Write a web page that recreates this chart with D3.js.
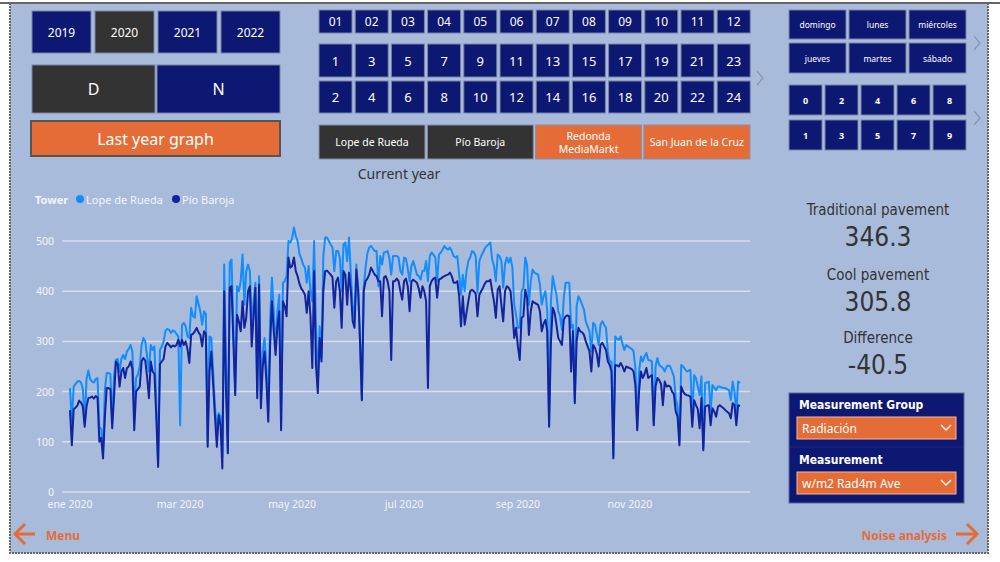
<!DOCTYPE html>
<html>
<head>
<meta charset="utf-8">
<script src="https://cdn.jsdelivr.net/npm/d3@7"></script>
<style>
body{margin:0;background:#fff;font-family:"Noto Sans","Open Sans",sans-serif;}
svg{display:block;}
</style>
</head>
<body>
<div id="report"></div>
<script>
// slicer contents
var years = ["2019","2020","2021","2022"];
var dayNight = ["D","N"];
var months = ["01","02","03","04","05","06","07","08","09","10","11","12"];
var hoursOdd = ["1","3","5","7","9","11","13","15","17","19","21","23"];
var hoursEven = ["2","4","6","8","10","12","14","16","18","20","22","24"];
var towers = ["Lope de Rueda","Pío Baroja","Redonda MediaMarkt","San Juan de la Cruz"];
var weekdaysTop = ["domingo","lunes","miércoles"];
var weekdaysBottom = ["jueves","martes","sábado"];
var digitsEven = ["0","2","4","6","8"];
var digitsOdd = ["1","3","5","7","9"];
var kpiLabels = ["Traditional pavement","Cool pavement","Difference"];
var kpiValues = ["346.3","305.8","-40.5"];
var monthAbbr = ["ene","feb","mar","abr","may","jun","jul","ago","sep","oct","nov","dic"];
var yTicks = [0,100,200,300,400,500];
var seriesNames = ["Lope de Rueda","Pío Baroja"];

// daily w/m2 values for 2020, one row per month
var lopeDeRueda = [
    207,140,210,215,220,221,218,205,137,225,242,225,220,218,225,227,130,125,80,205,237,237,235,137,230,263,265,240,265,273,265,
    280,285,293,280,160,227,235,250,293,307,300,270,240,293,283,290,180,55,283,290,300,321,325,323,317,322,320,315,310,
    133,333,337,330,310,307,367,350,347,390,375,360,333,360,355,100,310,307,240,170,123,157,150,70,453,260,80,457,463,330,200,
    410,400,420,473,373,440,453,440,333,380,417,200,430,180,280,307,250,160,340,427,360,287,360,393,133,417,420,430,500,497,
    505,527,510,500,475,465,453,447,417,450,400,380,500,330,213,330,267,470,507,507,500,493,487,440,480,480,467,400,493,497,460,
    507,433,370,347,453,407,300,183,407,447,475,487,490,485,480,480,410,470,453,477,478,480,465,433,470,470,470,467,440,433,
    467,465,445,420,450,460,447,433,430,423,440,440,460,420,470,477,473,467,420,473,477,483,490,485,483,487,480,470,467,470,433,
    393,433,400,440,460,467,480,478,470,397,460,470,477,485,490,493,497,463,450,420,473,470,460,407,455,467,457,467,447,373,353,
    327,327,400,407,467,453,373,420,443,437,435,433,413,373,390,400,360,133,380,430,410,393,360,350,323,387,417,417,417,327,
    333,180,370,390,383,373,363,340,330,320,280,337,333,315,293,333,340,333,327,280,260,260,73,310,305,303,310,295,283,293,290,
    287,285,280,247,127,240,270,260,270,277,263,262,260,133,250,267,253,250,247,240,250,252,250,240,230,187,170,100,253,250,
    245,240,242,243,150,233,227,210,193,230,87,217,218,220,160,213,208,203,210,210,208,207,207,205,203,183,220,200,160,220,217
];
var pioBaroja = [
    163,93,165,168,172,182,178,170,130,170,187,188,190,186,191,188,100,108,67,150,207,207,205,127,190,260,255,210,240,247,227,
    247,250,260,245,123,200,205,210,260,267,262,230,187,260,240,235,150,50,255,260,265,290,297,293,288,292,290,293,303,
    290,303,293,300,285,257,313,315,320,327,318,313,290,320,315,90,240,280,213,150,90,153,133,47,400,200,77,407,410,300,193,
    353,340,320,380,327,347,400,410,290,350,407,187,413,167,250,280,220,140,290,380,320,273,330,360,123,380,370,350,467,447,
    450,467,440,430,415,405,400,393,357,400,350,247,440,253,197,307,260,400,440,441,437,433,428,367,420,427,400,327,440,433,373,
    437,400,340,327,443,400,300,183,400,420,425,433,447,440,433,430,420,420,350,427,430,420,400,263,420,420,425,420,400,383,
    420,425,410,360,420,423,420,417,405,387,410,400,380,207,410,420,425,427,387,423,425,428,430,432,433,437,430,417,417,420,390,
    330,390,333,357,380,400,403,400,395,350,393,400,407,415,420,420,423,400,380,347,403,410,373,340,400,410,407,400,360,307,327,
    290,263,347,350,403,387,313,360,380,377,375,373,360,320,335,343,320,130,300,367,357,333,307,300,293,343,350,352,350,240,
    320,177,300,327,320,318,313,300,290,280,240,293,287,275,250,293,297,290,283,260,253,240,67,253,252,250,257,250,240,250,248,
    247,245,240,213,123,200,240,227,235,247,227,230,233,133,210,227,223,215,173,220,210,212,210,200,195,160,150,93,210,200,
    195,193,192,190,130,183,173,165,127,187,83,170,172,173,133,167,160,150,170,173,170,167,163,160,157,147,177,173,133,173,171
];

var navy = "#0d1873";
var dark = "#333333";
var orange = "#e66c37";
var canvasColor = "#a9bbdb";
var lightBlue = "#118dff";
var darkBlue = "#12239e";

var svg = d3.select("#report").append("svg")
    .attr("width", 1000)
    .attr("height", 562);

// report canvas
svg.append("rect").attr("x", 10).attr("y", 3).attr("width", 978).attr("height", 550).attr("fill", canvasColor);
svg.append("line").attr("x1", 0).attr("x2", 1000).attr("y1", 3).attr("y2", 3).attr("stroke", "#666").attr("stroke-width", 2);
svg.append("path").attr("d", "M10,3V553H988V3")
    .attr("fill", "none").attr("stroke", "#666").attr("stroke-width", 2).attr("stroke-dasharray", "2,1");

// generic button row
function buttons(labels, x0, pitch, w, y, h, opts) {
    var g = svg.append("g");
    var b = g.selectAll("g").data(labels).enter().append("g")
        .attr("transform", function (d, i) { return "translate(" + (x0 + i * pitch) + "," + y + ")"; });
    b.append("rect")
        .attr("width", w).attr("height", h)
        .attr("fill", function (d, i) { return opts.fill ? opts.fill(d, i) : navy; })
        .attr("stroke", opts.stroke || "#7b83a6")
        .attr("stroke-width", opts.strokeWidth || 1);
    b.append("text")
        .attr("x", w / 2).attr("y", h / 2)
        .attr("text-anchor", "middle")
        .attr("dominant-baseline", "central")
        .attr("fill", "#fff")
        .style("font-size", opts.size + "px")
        .style("font-weight", opts.weight || "normal")
        .text(function (d) { return d; });
    return b;
}

buttons(years, 32, 63, 59, 11, 42, {size: 12, fill: function (d) { return d === "2020" ? dark : navy; }});
buttons(dayNight, 32, 125, 123, 65, 48, {size: 16, fill: function (d) { return d === "D" ? dark : navy; }});
buttons(["Last year graph"], 31, 0, 249, 121, 35, {size: 16, fill: function () { return orange; }, stroke: "#555", strokeWidth: 2});

buttons(months, 319, 36.2, 33, 10, 23, {size: 12});
buttons(hoursOdd, 319, 36.2, 33, 44, 33, {size: 13});
buttons(hoursEven, 319, 36.2, 33, 81, 32, {size: 13});

var towerButtons = buttons(towers, 319, 108.3, 106, 125, 34, {size: 10.5, fill: function (d, i) { return i < 2 ? dark : orange; }, stroke: "#8a8fa8"});
// two line label for the third tower
towerButtons.filter(function (d) { return d === "Redonda MediaMarkt"; }).select("text")
    .text(null)
    .selectAll("tspan").data(["Redonda", "MediaMarkt"]).enter().append("tspan")
    .attr("x", 53).attr("y", function (d, i) { return 11 + i * 13; })
    .text(function (d) { return d; });

svg.append("text").attr("x", 399).attr("y", 173).attr("text-anchor", "middle").attr("dominant-baseline", "central")
    .attr("fill", "#333").style("font-size", "14px").text("Current year");

buttons(weekdaysTop, 789, 60, 57, 10, 29, {size: 8.5});
buttons(weekdaysBottom, 789, 60, 57, 43, 30, {size: 8.5});
buttons(digitsEven, 789, 36, 33, 85, 30, {size: 9, weight: "bold"});
buttons(digitsOdd, 789, 36, 33, 120, 30, {size: 9, weight: "bold"});

// page chevrons
[[760, 78], [977, 43], [977, 118]].forEach(function (p) {
    svg.append("path")
        .attr("d", "M" + (p[0] - 3) + "," + (p[1] - 7) + "L" + (p[0] + 3) + "," + p[1] + "L" + (p[0] - 3) + "," + (p[1] + 7))
        .attr("fill", "none").attr("stroke", "#8c93a8").attr("stroke-width", 1.2);
});

// line chart
var start = new Date(2020, 0, 1);
var days = lopeDeRueda.map(function (d, i) { return d3.timeDay.offset(start, i); });

var x = d3.scaleTime().domain([start, new Date(2020, 11, 31)]).range([70, 740]);
var y = d3.scaleLinear().domain([0, 500]).range([492, 241]);

var chart = svg.append("g").attr("class", "chart");

chart.selectAll(".grid").data(yTicks).enter().append("line")
    .attr("class", "grid")
    .attr("x1", 62).attr("x2", 750)
    .attr("y1", function (d) { return y(d); }).attr("y2", function (d) { return y(d); })
    .attr("stroke", "#d6deee").attr("stroke-width", 1.5);

chart.selectAll(".ylab").data(yTicks).enter().append("text")
    .attr("class", "ylab")
    .attr("x", 54).attr("y", function (d) { return y(d); })
    .attr("text-anchor", "end").attr("dominant-baseline", "central")
    .attr("fill", "#f2f4fa").style("font-size", "10.5px")
    .text(function (d) { return d; });

var xTicks = d3.timeMonth.every(2).range(start, new Date(2020, 11, 31));
chart.selectAll(".xlab").data(xTicks).enter().append("text")
    .attr("class", "xlab")
    .attr("x", function (d) { return x(d); }).attr("y", 504)
    .attr("text-anchor", "middle").attr("dominant-baseline", "central")
    .attr("fill", "#f2f4fa").style("font-size", "10.5px")
    .text(function (d) { return monthAbbr[d.getMonth()] + " " + d.getFullYear(); });

var line = d3.line()
    .x(function (d, i) { return x(days[i]); })
    .y(function (d) { return y(d); });

chart.append("path").datum(lopeDeRueda)
    .attr("d", line).attr("fill", "none").attr("stroke", lightBlue).attr("stroke-width", 2).attr("stroke-linejoin", "round");
chart.append("path").datum(pioBaroja)
    .attr("d", line).attr("fill", "none").attr("stroke", darkBlue).attr("stroke-width", 2).attr("stroke-linejoin", "round");

// legend
var legend = svg.append("g").attr("transform", "translate(35,199)");
legend.append("text").attr("dominant-baseline", "central").attr("fill", "#f2f4fa")
    .style("font-size", "11px").style("font-weight", "bold").text("Tower");
var legendX = [45, 141];
var legendColors = [lightBlue, darkBlue];
seriesNames.forEach(function (name, i) {
    legend.append("circle").attr("cx", legendX[i]).attr("cy", 0).attr("r", 4).attr("fill", legendColors[i]);
    legend.append("text").attr("x", legendX[i] + 6).attr("dominant-baseline", "central").attr("fill", "#f2f4fa")
        .style("font-size", "11px").text(name);
});

// cards
var kpi = svg.append("g").attr("class", "kpi");
var kpiY = [210, 275, 338];
kpiLabels.forEach(function (label, i) {
    kpi.append("text").attr("x", 878).attr("y", kpiY[i]).attr("text-anchor", "middle").attr("dominant-baseline", "central")
        .attr("fill", "#333").style("font-family", "'DejaVu Sans Condensed','DejaVu Sans',sans-serif").style("font-stretch", "condensed")
        .style("font-size", "15px").text(label);
    kpi.append("text").attr("x", 878).attr("y", kpiY[i] + 27).attr("text-anchor", "middle").attr("dominant-baseline", "central")
        .attr("fill", "#333").style("font-family", "'DejaVu Sans Condensed','DejaVu Sans',sans-serif").style("font-stretch", "condensed")
        .style("font-size", "26px").text(kpiValues[i]);
});

// measurement slicers
var slicer = svg.append("g");
slicer.append("rect").attr("x", 789).attr("y", 393).attr("width", 175).attr("height", 110).attr("fill", navy).attr("stroke", "#5d6699");
slicer.append("line").attr("x1", 790).attr("x2", 963).attr("y1", 447).attr("y2", 447).attr("stroke", "#1c2784");
var dropTitles = ["Measurement Group", "Measurement"];
var dropValues = ["Radiación", "w/m2 Rad4m Ave"];
var dropY = [417, 472];
dropTitles.forEach(function (t, i) {
    slicer.append("text").attr("x", 799).attr("y", dropY[i] - 12).attr("dominant-baseline", "central").attr("fill", "#fff")
        .style("font-family", "'DejaVu Sans Condensed','DejaVu Sans',sans-serif").style("font-stretch", "condensed")
        .style("font-size", "12px").style("font-weight", "bold").text(t);
    slicer.append("rect").attr("x", 797).attr("y", dropY[i]).attr("width", 159).attr("height", 22).attr("fill", orange).attr("stroke", "#f3b79c");
    slicer.append("text").attr("x", 802).attr("y", dropY[i] + 11).attr("dominant-baseline", "central").attr("fill", "#fff")
        .style("font-size", "12px").text(dropValues[i]);
    slicer.append("path")
        .attr("d", "M" + 941 + "," + (dropY[i] + 8) + "l5,5l5,-5")
        .attr("fill", "none").attr("stroke", "#fff").attr("stroke-width", 1.3);
});

// navigation
var navColor = "#e66c37";
svg.append("path").attr("d", "M35,534H16M25,524L15,534L25,544")
    .attr("fill", "none").attr("stroke", navColor).attr("stroke-width", 3);
svg.append("text").attr("x", 46).attr("y", 535).attr("dominant-baseline", "central").attr("fill", navColor)
    .style("font-size", "12px").style("font-weight", "bold").text("Menu");
svg.append("path").attr("d", "M956,534H976M967,524L977,534L967,544")
    .attr("fill", "none").attr("stroke", navColor).attr("stroke-width", 3);
svg.append("text").attr("x", 947).attr("y", 535).attr("text-anchor", "end").attr("dominant-baseline", "central").attr("fill", navColor)
    .style("font-size", "12px").style("font-weight", "bold").text("Noise analysis");
</script>
</body>
</html>
